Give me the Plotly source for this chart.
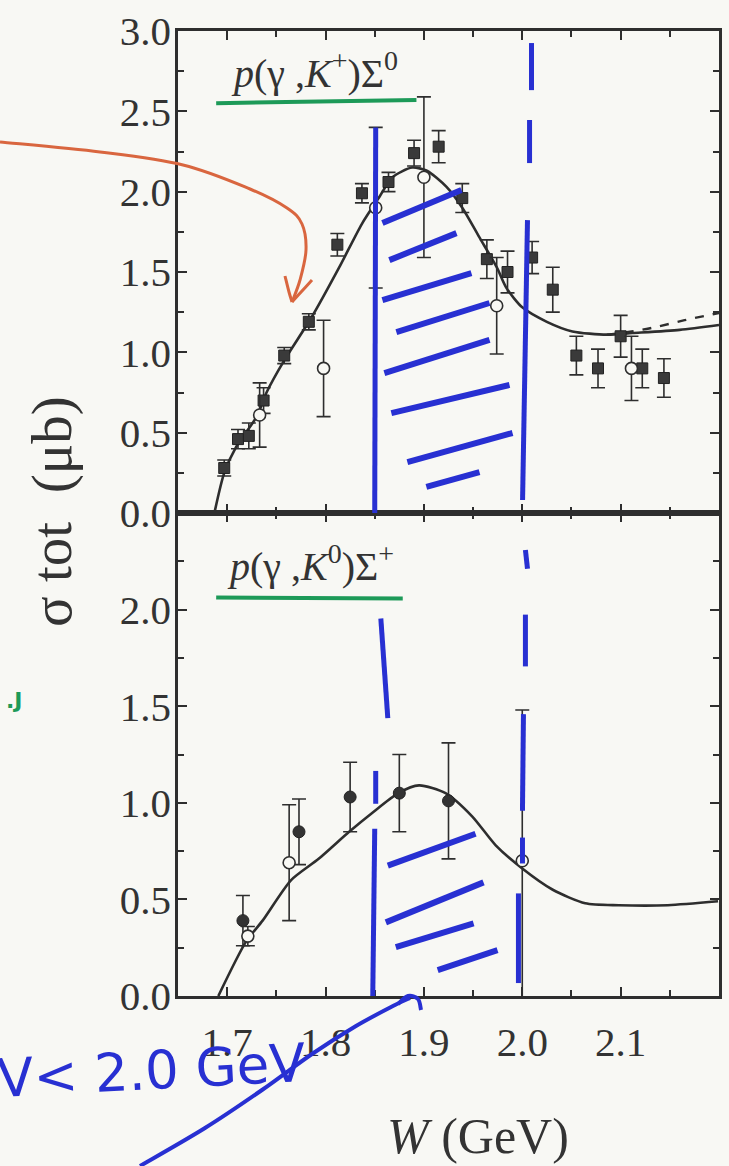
import plotly.graph_objects as go

FIG_W, FIG_H = 729, 1166

# ---------------- data: p(gamma,K+)Sigma0 (top panel) ----------------
top_sq_w   = [1.697, 1.711, 1.722, 1.737, 1.758, 1.783, 1.812, 1.837, 1.864, 1.890, 1.915,
              1.939, 1.964, 1.985, 2.010, 2.031, 2.055, 2.077, 2.100, 2.122, 2.144]
top_sq_s   = [0.28, 0.46, 0.48, 0.70, 0.98, 1.19, 1.67, 1.99, 2.06, 2.24, 2.28,
              1.96, 1.58, 1.50, 1.59, 1.39, 0.98, 0.90, 1.10, 0.90, 0.84]
top_sq_err = [0.05, 0.06, 0.08, 0.08, 0.05, 0.05, 0.07, 0.06, 0.06, 0.08, 0.10,
              0.09, 0.12, 0.13, 0.10, 0.14, 0.12, 0.12, 0.13, 0.12, 0.12]

top_oc_w   = [1.733, 1.798, 1.851, 1.900, 1.974, 2.111]
top_oc_s   = [0.61, 0.90, 1.90, 2.09, 1.29, 0.90]
top_oc_err = [0.20, 0.30, 0.50, 0.50, 0.30, 0.20]

top_curve_w = [1.687, 1.697, 1.709, 1.730, 1.740, 1.758, 1.786, 1.814, 1.837, 1.855, 1.868,
               1.888, 1.903, 1.923, 1.939, 1.956, 1.974, 1.984, 2.000, 2.025, 2.051,
               2.086, 2.112, 2.160, 2.200]
top_curve_s = [0.00, 0.25, 0.41, 0.60, 0.75, 0.95, 1.22, 1.53, 1.80, 1.97, 2.09,
               2.15, 2.13, 2.03, 1.90, 1.72, 1.53, 1.40, 1.28, 1.19, 1.13,
               1.11, 1.12, 1.14, 1.17]

top_dash_w = [2.086, 2.100, 2.130, 2.165, 2.200]
top_dash_s = [1.11, 1.12, 1.15, 1.20, 1.245]

# ---------------- data: p(gamma,K0)Sigma+ (bottom panel) ----------------
bot_fc_w   = [1.716, 1.773, 1.825, 1.875, 1.925]
bot_fc_s   = [0.39, 0.85, 1.03, 1.05, 1.01]
bot_fc_err = [0.13, 0.17, 0.18, 0.20, 0.30]

bot_oc_w   = [1.721, 1.763, 2.000]
bot_oc_s   = [0.31, 0.69, 0.70]
bot_oc_err = [0.05, 0.30, 0.78]

bot_curve_w = [1.691, 1.719, 1.736, 1.765, 1.793, 1.824, 1.848, 1.874, 1.895, 1.922,
               1.949, 1.973, 2.000, 2.031, 2.064, 2.098, 2.148, 2.199]
bot_curve_s = [0.00, 0.28, 0.39, 0.60, 0.71, 0.85, 0.95, 1.05, 1.09, 1.05,
               0.93, 0.78, 0.66, 0.55, 0.48, 0.47, 0.47, 0.49]

x_ticks = [1.7, 1.8, 1.9, 2.0, 2.1]
x_minor = [1.75, 1.85, 1.95, 2.05, 2.15]
top_y_ticks = [0.0, 0.5, 1.0, 1.5, 2.0, 2.5, 3.0]
bot_y_ticks = [0.0, 0.5, 1.0, 1.5, 2.0]
top_y_minor = [0.25, 0.75, 1.25, 1.75, 2.25, 2.75]
bot_y_minor = [0.25, 0.75, 1.25, 1.75, 2.25]

# ---------------- hand-drawn marks (data coords) ----------------
top_blue_lines = [((1.850, 0.0), (1.851, 2.40)),
                  ((2.0094, 2.925), (2.0094, 2.632)),
                  ((2.0074, 2.446), (2.0074, 2.178)),
                  ((2.0053, 1.823), (2.0003, 0.081))]
top_hatch = [((1.8578, 1.805), (1.9382, 2.010)),
             ((1.8649, 1.574), (1.9331, 1.742)),
             ((1.8578, 1.325), (1.9483, 1.493)),
             ((1.8720, 1.126), (1.9667, 1.307)),
             ((1.8598, 0.871), (1.9667, 1.077)),
             ((1.8669, 0.622), (1.9870, 0.797)),
             ((1.8832, 0.317), (1.9901, 0.498)),
             ((1.9025, 0.162), (1.9565, 0.255))]
bot_blue_lines = [((1.8562, 1.954), (1.8633, 1.438)),
                  ((1.851, 1.165), (1.851, 0.995)),
                  ((1.850, 0.866), (1.848, 0.0)),
                  ((2.0032, 2.309), (2.0053, 2.211)),
                  ((2.0032, 1.974), (2.0032, 1.706)),
                  ((2.0012, 1.459), (2.0002, 0.959)),
                  ((2.0002, 0.820), (2.0002, 0.686)),
                  ((1.9961, 0.531), (1.9961, 0.067))]
bot_hatch = [((1.8633, 0.675), (1.9525, 0.840)),
             ((1.8613, 0.381), (1.9606, 0.588)),
             ((1.8714, 0.253), (1.9505, 0.376)),
             ((1.9140, 0.134), (1.9748, 0.237))]
top_green = ((1.6888, 2.551), (1.8924, 2.570))
bot_green = ((1.6888, 2.062), (1.8785, 2.057))

# ---------------- styling ----------------
INK = "#2e2e2e"
BLUE = "#2830d2"
GREEN = "#1d9a58"
RED = "#d9663f"
BG = "#f8f8f4"
SERIF = "Liberation Serif"

def paper(x, y):
    return x / FIG_W, 1 - y / FIG_H

def smooth_path(points):
    pts = [paper(*p) for p in points]
    d = f"M {pts[0][0]:.5f},{pts[0][1]:.5f}"
    for i in range(len(pts) - 1):
        p0 = pts[i - 1] if i > 0 else pts[i]
        p1, p2 = pts[i], pts[i + 1]
        p3 = pts[i + 2] if i + 2 < len(pts) else p2
        c1 = (p1[0] + (p2[0] - p0[0]) / 6, p1[1] + (p2[1] - p0[1]) / 6)
        c2 = (p2[0] - (p3[0] - p1[0]) / 6, p2[1] - (p3[1] - p1[1]) / 6)
        d += f" C {c1[0]:.5f},{c1[1]:.5f} {c2[0]:.5f},{c2[1]:.5f} {p2[0]:.5f},{p2[1]:.5f}"
    return d

X_DOM = [178 / FIG_W, 719 / FIG_W]
TOP_DOM = [1 - 513 / FIG_H, 1 - 31 / FIG_H]
BOT_DOM = [1 - 996 / FIG_H, 1 - 513 / FIG_H]

fig = go.Figure()

err_style = dict(type="data", visible=True, thickness=1.6, width=7, color=INK)

fig.add_trace(go.Scatter(x=top_curve_w, y=top_curve_s, mode="lines",
                         line=dict(color=INK, width=2.6, shape="spline", smoothing=0.7),
                         xaxis="x", yaxis="y", showlegend=False))
fig.add_trace(go.Scatter(x=top_dash_w, y=top_dash_s, mode="lines",
                         line=dict(color=INK, width=2.4, dash="dash", shape="spline"),
                         xaxis="x", yaxis="y", showlegend=False))
fig.add_trace(go.Scatter(x=top_sq_w, y=top_sq_s, mode="markers",
                         marker=dict(symbol="square", size=11, color="#3a3a3a",
                                     line=dict(color="#222", width=1)),
                         error_y=dict(array=top_sq_err, **err_style),
                         xaxis="x", yaxis="y", showlegend=False))
fig.add_trace(go.Scatter(x=top_oc_w, y=top_oc_s, mode="markers",
                         marker=dict(symbol="circle", size=12, color=BG,
                                     line=dict(color=INK, width=1.6)),
                         error_y=dict(array=top_oc_err, **err_style),
                         xaxis="x", yaxis="y", showlegend=False))

fig.add_trace(go.Scatter(x=bot_curve_w, y=bot_curve_s, mode="lines",
                         line=dict(color=INK, width=2.6, shape="spline", smoothing=0.7),
                         xaxis="x2", yaxis="y2", showlegend=False))
fig.add_trace(go.Scatter(x=bot_fc_w, y=bot_fc_s, mode="markers",
                         marker=dict(symbol="circle", size=12, color="#333",
                                     line=dict(color="#222", width=1)),
                         error_y=dict(array=bot_fc_err, **err_style),
                         xaxis="x2", yaxis="y2", showlegend=False))
fig.add_trace(go.Scatter(x=bot_oc_w, y=bot_oc_s, mode="markers",
                         marker=dict(symbol="circle", size=12, color=BG,
                                     line=dict(color=INK, width=1.6)),
                         error_y=dict(array=bot_oc_err, **err_style),
                         xaxis="x2", yaxis="y2", showlegend=False))

axis_common = dict(showline=True, linecolor=INK, linewidth=2.5, mirror="ticks",
                   ticks="inside", ticklen=9, tickwidth=2, tickcolor=INK,
                   showgrid=False, zeroline=False, automargin=False,
                   tickfont=dict(family=SERIF, size=41, color="#333"))

fig.update_layout(
    width=FIG_W, height=FIG_H,
    margin=dict(l=0, r=0, t=0, b=0, pad=0, autoexpand=False),
    paper_bgcolor=BG, plot_bgcolor=BG,
    xaxis=dict(domain=X_DOM, range=[1.65, 2.2], anchor="y", showticklabels=False,
               tickvals=x_ticks,
               minor=dict(tickvals=x_minor, ticks="inside", ticklen=6, tickwidth=2, tickcolor=INK),
               **axis_common),
    yaxis=dict(domain=TOP_DOM, range=[0, 3.0], anchor="x",
               tickvals=top_y_ticks, tickformat=".1f", ticklabelstandoff=-4,
               minor=dict(tickvals=top_y_minor, ticks="inside", ticklen=6, tickwidth=2, tickcolor=INK),
               **axis_common),
    xaxis2=dict(domain=X_DOM, range=[1.65, 2.2], anchor="y2", matches="x",
                tickvals=x_ticks, tickformat=".1f", ticklabelstandoff=8,
                minor=dict(tickvals=x_minor, ticks="inside", ticklen=6, tickwidth=2, tickcolor=INK),
                **axis_common),
    yaxis2=dict(domain=BOT_DOM, range=[0, 2.5], anchor="x2",
                tickvals=bot_y_ticks, tickformat=".1f", ticklabelstandoff=-4,
                minor=dict(tickvals=bot_y_minor, ticks="inside", ticklen=6, tickwidth=2, tickcolor=INK),
                **axis_common),
)

shapes = []
def seg(p0, p1, xr, yr, color, width):
    shapes.append(dict(type="line", xref=xr, yref=yr, x0=p0[0], y0=p0[1], x1=p1[0], y1=p1[1],
                       line=dict(color=color, width=width), layer="above"))

for a, b in top_blue_lines:
    seg(a, b, "x", "y", BLUE, 5)
for a, b in top_hatch:
    seg(a, b, "x", "y", BLUE, 6)
for a, b in bot_blue_lines:
    seg(a, b, "x2", "y2", BLUE, 5)
for a, b in bot_hatch:
    seg(a, b, "x2", "y2", BLUE, 6)
seg(*top_green, "x", "y", GREEN, 4)
seg(*bot_green, "x2", "y2", GREEN, 4)

# red hand-drawn arrow
red_curve = [(0, 142), (100, 152), (183, 165), (250, 189), (287, 208), (302, 224),
             (306, 250), (300, 280), (292, 302)]
shapes.append(dict(type="path", xref="paper", yref="paper", path=smooth_path(red_curve),
                   line=dict(color=RED, width=3), layer="above"))
shapes.append(dict(type="path", xref="paper", yref="paper",
                   path=smooth_path([(285, 276), (289, 292), (292, 302)]),
                   line=dict(color=RED, width=3), layer="above"))
shapes.append(dict(type="path", xref="paper", yref="paper",
                   path=smooth_path([(292, 302), (302, 291), (312, 280)]),
                   line=dict(color=RED, width=3), layer="above"))

# blue hand-drawn arrow
blue_curve = [(140, 1166), (205, 1128), (262, 1090), (312, 1054), (356, 1026), (395, 1005), (410, 998)]
shapes.append(dict(type="path", xref="paper", yref="paper", path=smooth_path(blue_curve),
                   line=dict(color=BLUE, width=4), layer="above"))
shapes.append(dict(type="path", xref="paper", yref="paper",
                   path=smooth_path([(398, 1004), (408, 996), (418, 999), (421, 1010)]),
                   line=dict(color=BLUE, width=4), layer="above"))

fig.update_layout(shapes=shapes)

annotations = [
    dict(x=1.7890, y=2.585, xref="x", yref="y", xanchor="center", yanchor="bottom",
         text="<i>p</i>(γ ,<i>K</i><sup>+</sup>)Σ<sup>0</sup>", showarrow=False,
         font=dict(family=SERIF, size=40, color="#333")),
    dict(x=1.7850, y=2.095, xref="x2", yref="y2", xanchor="center", yanchor="bottom",
         text="<i>p</i>(γ ,<i>K</i><sup>0</sup>)Σ<sup>+</sup>", showarrow=False,
         font=dict(family=SERIF, size=40, color="#333")),
    dict(x=paper(478, 1136)[0], y=paper(478, 1136)[1], xref="paper", yref="paper",
         text="<i>W</i> (GeV)", showarrow=False, xanchor="center", yanchor="middle",
         font=dict(family=SERIF, size=50, color="#333")),
    dict(x=paper(52, 512)[0], y=paper(52, 512)[1], xref="paper", yref="paper",
         text="σ tot  (μb)", textangle=-90, showarrow=False, xanchor="center", yanchor="middle",
         font=dict(family=SERIF, size=57, color="#333")),
    dict(x=paper(-6, 1070)[0], y=paper(-6, 1070)[1], xref="paper", yref="paper",
         text="V< 2.0 GeV", textangle=-3, showarrow=False, xanchor="left", yanchor="middle",
         font=dict(family="DejaVu Sans", size=53, color=BLUE)),
    dict(x=paper(14, 700)[0], y=paper(14, 700)[1], xref="paper", yref="paper",
         text="<b>.J</b>", showarrow=False, xanchor="center", yanchor="middle",
         font=dict(family="DejaVu Sans", size=22, color=GREEN)),
]
fig.update_layout(annotations=annotations)

fig.write_html("out.html", config={"displayModeBar": False},
               post_script="document.body.style.margin='0px';document.body.style.overflow='hidden';")
